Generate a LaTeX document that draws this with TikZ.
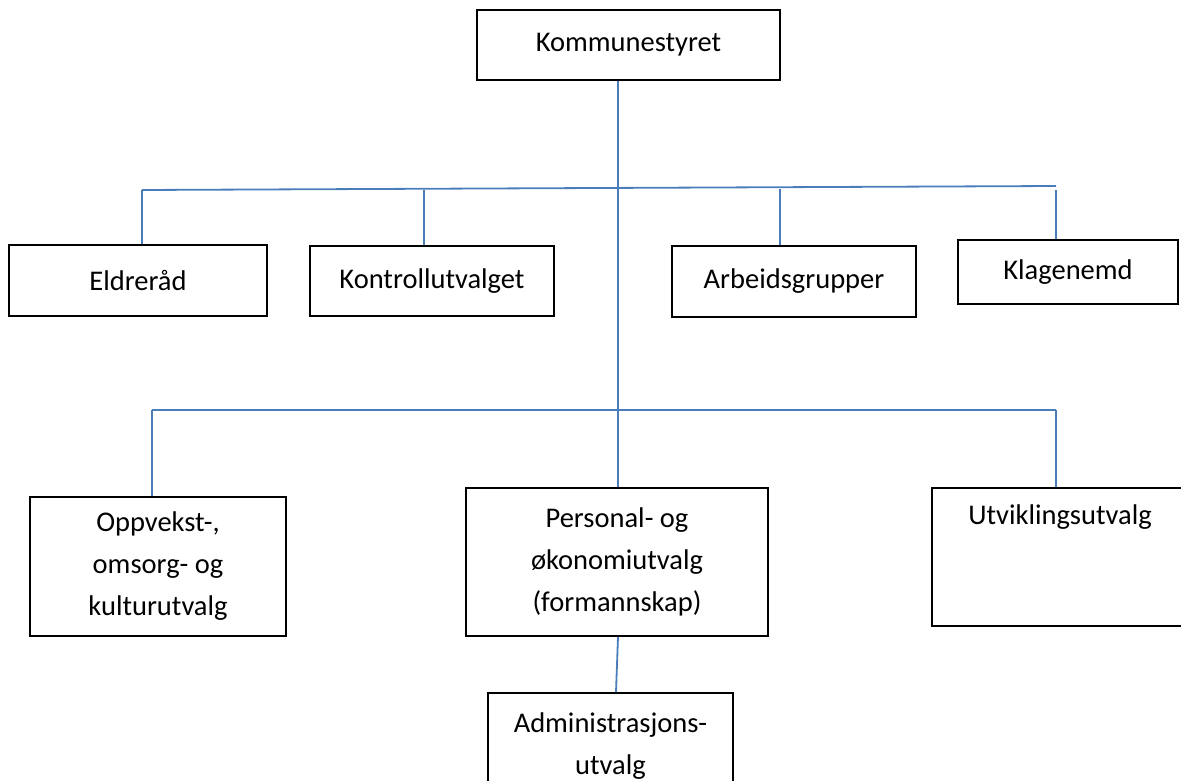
\documentclass[tikz,border=0pt]{standalone}
\usepackage{fontspec}
\setmainfont{Carlito}
\definecolor{linkblue}{RGB}{74,126,187}
\tikzset{
  orgbox/.style={draw=black, line width=2pt, inner sep=0pt, align=center,
    font=\fontsize{28.5}{42}\selectfont, text=black},
  conn/.style={draw=linkblue, line width=1.8pt}
}
\begin{document}
\begin{tikzpicture}[x=1pt,y=-1pt]
\useasboundingbox (0,0) rectangle (1181,781);
\clip (0,0) rectangle (1181,781);
% boxes
\node[orgbox, minimum width=303pt, minimum height=70pt] (kom) at (628.5,45) {Kommunestyret};
\node[orgbox, minimum width=258pt, minimum height=71pt] (eld) at (138,280.5) {Eldreråd};
\node[orgbox, minimum width=244pt, minimum height=70pt] (kon) at (432,281) {Kontrollutvalget};
\node[orgbox, minimum width=244pt, minimum height=71pt] (arb) at (794,281.5) {Arbeidsgrupper};
\node[orgbox, minimum width=220pt, minimum height=64pt] (kla) at (1068,272) {Klagenemd};
\node[orgbox, minimum width=256pt, minimum height=139pt] (opp) at (158,566.5) {Oppvekst-,\\omsorg- og\\kulturutvalg};
\node[orgbox, minimum width=302pt, minimum height=148pt] (per) at (617,562) {Personal- og\\økonomiutvalg\\(formannskap)};
\node[orgbox, minimum width=256pt, minimum height=138pt] (utv) at (1060,557) {Utviklingsutvalg\\~\\~};
\node[orgbox, minimum width=245pt, minimum height=106pt] (adm) at (610.5,746) {Administrasjons-\\utvalg};
% junction coordinates
\coordinate (main) at (618,190);
\coordinate (h1l) at (142,190);
\coordinate (h1r) at (1056,186);
\coordinate (d2) at (424,190);
\coordinate (d3) at (780,189);
\coordinate (d4) at (1056,190);
\coordinate (h2l) at (152,410);
\coordinate (h2r) at (1056,410);
\coordinate (a1) at (618,636);
\coordinate (a2) at (616,693);
% connectors
\draw[conn] (kom.south -| main) -- (per.north -| main);
\draw[conn] (h1l) -- (h1r);
\draw[conn] (h1l) -- (eld.north -| h1l);
\draw[conn] (d2) -- (kon.north -| d2);
\draw[conn] (d3) -- (arb.north -| d3);
\draw[conn] (d4) -- (kla.north -| d4);
\draw[conn] (h2l) -- (h2r);
\draw[conn] (h2l) -- (opp.north -| h2l);
\draw[conn] (h2r) -- (utv.north -| h2r);
\draw[conn] (per.south -| a1) -- (adm.north -| a2);
\end{tikzpicture}
\end{document}
